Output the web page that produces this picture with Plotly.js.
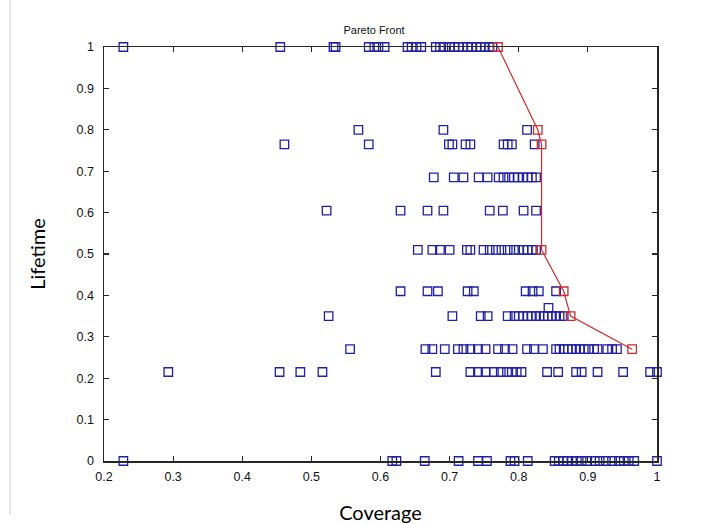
<!DOCTYPE html>
<html>
<head>
<meta charset="utf-8">
<script src="https://cdn.plot.ly/plotly-3.0.1.min.js"></script>
<style>html,body{margin:0;padding:0;background:#fff;}#chart{width:713px;height:524px;}</style>
</head>
<body>
<div id="chart"></div>
<script>
// Lifetime levels and the coverage values of solutions found at each level
const lifetimeLevels = [1.0, 0.8, 0.765, 0.685, 0.605, 0.51, 0.41, 0.37, 0.35, 0.27, 0.215, 0.0];
const cov_100 = [0.228, 0.455, 0.532, 0.535, 0.583, 0.591, 0.597, 0.606, 0.639, 0.645, 0.652, 0.659, 0.680, 0.686, 0.691, 0.700, 0.707, 0.713, 0.719, 0.726, 0.732, 0.739, 0.745, 0.751, 0.757, 0.762];
const cov_080 = [0.568, 0.691, 0.812];
const cov_0765 = [0.461, 0.583, 0.699, 0.704, 0.723, 0.730, 0.778, 0.784, 0.790, 0.823];
const cov_0685 = [0.677, 0.706, 0.720, 0.742, 0.755, 0.771, 0.778, 0.786, 0.793, 0.799, 0.806, 0.813, 0.819, 0.825];
const cov_0605 = [0.522, 0.629, 0.668, 0.691, 0.758, 0.777, 0.807, 0.825];
const cov_051 = [0.654, 0.675, 0.686, 0.700, 0.725, 0.730, 0.749, 0.758, 0.767, 0.775, 0.784, 0.793, 0.800, 0.807, 0.813, 0.819, 0.825];
const cov_041 = [0.629, 0.668, 0.683, 0.726, 0.735, 0.810, 0.820, 0.829, 0.854];
const cov_037 = [0.843];
const cov_035 = [0.525, 0.704, 0.745, 0.755, 0.784, 0.794, 0.800, 0.806, 0.813, 0.819, 0.825, 0.830, 0.836, 0.842, 0.848, 0.854, 0.859, 0.865];
const cov_027 = [0.556, 0.665, 0.675, 0.693, 0.712, 0.720, 0.730, 0.741, 0.752, 0.770, 0.780, 0.791, 0.812, 0.822, 0.835, 0.854, 0.859, 0.865, 0.871, 0.877, 0.883, 0.888, 0.894, 0.901, 0.909, 0.914, 0.928, 0.935, 0.942];
const cov_0215 = [0.293, 0.454, 0.484, 0.516, 0.680, 0.730, 0.741, 0.752, 0.764, 0.774, 0.783, 0.790, 0.797, 0.804, 0.841, 0.857, 0.883, 0.891, 0.914, 0.951, 0.990, 1.0];
const cov_000 = [0.228, 0.617, 0.623, 0.664, 0.713, 0.741, 0.754, 0.788, 0.794, 0.813, 0.852, 0.858, 0.864, 0.870, 0.877, 0.884, 0.891, 0.899, 0.910, 0.917, 0.926, 0.935, 0.945, 0.952, 0.959, 0.967, 1.0];

// Pareto front
const paretoCoverage = [0.770, 0.8275, 0.833, 0.833, 0.865, 0.875, 0.964];
const paretoLifetime = [1.0, 0.8, 0.765, 0.51, 0.41, 0.35, 0.27];

// Axis ticks
const xTicks = [0.2, 0.3, 0.4, 0.5, 0.6, 0.7, 0.8, 0.9, 1];
const xTickText = ["0.2", "0.3", "0.4", "0.5", "0.6", "0.7", "0.8", "0.9", "1"];
const yTicks = [0, 0.1, 0.2, 0.3, 0.4, 0.5, 0.6, 0.7, 0.8, 0.9, 1];
const yTickText = ["0", "0.1", "0.2", "0.3", "0.4", "0.5", "0.6", "0.7", "0.8", "0.9", "1"];

const rows = [cov_100, cov_080, cov_0765, cov_0685, cov_0605, cov_051, cov_041, cov_037, cov_035, cov_027, cov_0215, cov_000];
const allX = [], allY = [];
rows.forEach((r, i) => r.forEach(v => { allX.push(v); allY.push(lifetimeLevels[i]); }));

const blue = 'rgb(32,32,165)';
const red = 'rgb(205,45,45)';

const traces = [
  {
    x: allX, y: allY, type: 'scatter', mode: 'markers', cliponaxis: false,
    marker: {symbol: 'square-open', size: 8.5, color: blue, line: {width: 1.3, color: blue}},
    hoverinfo: 'x+y'
  },
  {
    x: paretoCoverage, y: paretoLifetime, type: 'scatter', mode: 'lines+markers', cliponaxis: false,
    line: {color: red, width: 1.2},
    marker: {symbol: 'square-open', size: 8.5, color: red, line: {width: 1.3, color: red}}
  }
];

const axisCommon = {
  showgrid: false, zeroline: false, showline: true, linecolor: '#262626', linewidth: 1.5,
  mirror: 'ticks', ticks: 'inside', ticklen: 5, tickwidth: 1.2, tickcolor: '#262626',
  tickfont: {family: 'Liberation Sans, Arial, sans-serif', size: 12.5, color: '#111'},
  fixedrange: true, automargin: false
};

const layout = {
  width: 713, height: 524,
  margin: {l: 104, r: 56, t: 47, b: 63},
  paper_bgcolor: '#fff', plot_bgcolor: '#fff',
  showlegend: false,
  title: {text: 'Pareto Front', x: 374 / 713, xref: 'container', xanchor: 'center', y: 0.943, yref: 'container', yanchor: 'middle',
          font: {family: 'Liberation Sans, Arial, sans-serif', size: 11, color: '#111'}},
  xaxis: Object.assign({}, axisCommon, {
    range: [0.2, 1], tickmode: 'array', tickvals: xTicks, ticktext: xTickText,
    ticklabelstandoff: 3,
    title: {text: 'Coverage', standoff: 25, font: {family: 'Lato, Open Sans, sans-serif', size: 20, color: '#000'}}
  }),
  yaxis: Object.assign({}, axisCommon, {
    range: [0, 1], tickmode: 'array', tickvals: yTicks, ticktext: yTickText,
    ticklabelstandoff: 6,
    title: {text: 'Lifetime', standoff: 25, font: {family: 'Lato, Open Sans, sans-serif', size: 20, color: '#000'}}
  })
};
// faint frame line on the left edge of the picture
layout.shapes = [{type: 'line', xref: 'paper', yref: 'paper',
  x0: (10 - 104) / (713 - 104 - 56), x1: (10 - 104) / (713 - 104 - 56),
  y0: (461 - 515) / (461 - 47), y1: 461 / (461 - 47),
  line: {color: '#d0d0d0', width: 1}}];

Plotly.newPlot('chart', traces, layout, {displayModeBar: false, staticPlot: true});
</script>
</body>
</html>
